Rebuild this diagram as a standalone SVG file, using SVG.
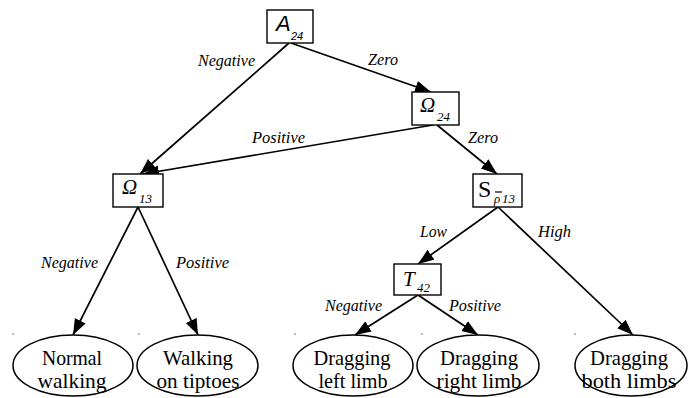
<svg xmlns="http://www.w3.org/2000/svg" width="688" height="398" viewBox="0 0 688 398">
  <style>
    .box { fill: #fff; stroke: #000; stroke-width: 1.4; }
    .leaf { fill: #fff; stroke: #000; stroke-width: 1.5; }
    .edge { fill: none; stroke: #000; stroke-width: 1.7; marker-end: url(#arrow); }
    .lbl { font-family: "Liberation Serif", "Times New Roman", serif; font-style: italic; font-size: 16px; fill: #000; }
    .leaftxt { font-family: "Liberation Serif", "Times New Roman", serif; font-size: 21px; fill: #000; text-anchor: middle; }
    .sym { font-family: "Liberation Serif", "Times New Roman", serif; font-style: italic; fill: #000; }
    .sub { font-family: "Liberation Serif", "Times New Roman", serif; font-style: italic; font-size: 13px; fill: #000; }
    .dot { fill: #666; }
  </style>
  <defs>
    <marker id="arrow" markerUnits="userSpaceOnUse" markerWidth="17" markerHeight="13" refX="16" refY="6" orient="auto">
      <path d="M0,0 L16,6 L0,12 Z" fill="#000"/>
    </marker>
  </defs>

  <!-- connectors -->
  <g id="edges">
    <line class="edge" x1="289" y1="43" x2="140" y2="174"/>
    <line class="edge" x1="291" y1="43" x2="431" y2="92"/>
    <line class="edge" x1="433" y1="125" x2="143" y2="174"/>
    <line class="edge" x1="437" y1="125" x2="497" y2="174"/>
    <line class="edge" x1="138" y1="207" x2="73" y2="335"/>
    <line class="edge" x1="138" y1="207" x2="198" y2="335"/>
    <line class="edge" x1="498" y1="207" x2="418" y2="264"/>
    <line class="edge" x1="498" y1="207" x2="633" y2="335"/>
    <line class="edge" x1="418" y1="295" x2="355" y2="335"/>
    <line class="edge" x1="418" y1="295" x2="478" y2="335"/>
    <!-- branch labels -->
    <text class="lbl" x="198" y="66" textLength="57" lengthAdjust="spacingAndGlyphs">Negative</text>
    <text class="lbl" x="368" y="65" textLength="30" lengthAdjust="spacingAndGlyphs">Zero</text>
    <text class="lbl" x="252" y="143" textLength="53" lengthAdjust="spacingAndGlyphs">Positive</text>
    <text class="lbl" x="468" y="143" textLength="30" lengthAdjust="spacingAndGlyphs">Zero</text>
    <text class="lbl" x="41" y="268" textLength="57" lengthAdjust="spacingAndGlyphs">Negative</text>
    <text class="lbl" x="176" y="268" textLength="53" lengthAdjust="spacingAndGlyphs">Positive</text>
    <text class="lbl" x="420" y="237" textLength="27" lengthAdjust="spacingAndGlyphs">Low</text>
    <text class="lbl" x="538" y="237" textLength="33" lengthAdjust="spacingAndGlyphs">High</text>
    <text class="lbl" x="325" y="311" textLength="57" lengthAdjust="spacingAndGlyphs">Negative</text>
    <text class="lbl" x="449" y="311" textLength="52" lengthAdjust="spacingAndGlyphs">Positive</text>
  </g>

  <!-- decision nodes -->
  <g id="A24">
    <rect class="box" x="267" y="10" width="46" height="33"/>
    <text x="276" y="31" font-family="Liberation Sans, Arial, sans-serif" font-style="italic" font-size="22">A</text>
    <text x="291" y="40" font-family="Liberation Sans, Arial, sans-serif" font-style="italic" font-size="11">24</text>
  </g>
  <g id="Omega24">
    <rect class="box" x="412" y="92" width="47" height="33"/>
    <text class="sym" x="420" y="112" font-size="21">Ω</text>
    <text class="sub" x="437" y="121">24</text>
  </g>
  <g id="Omega13">
    <rect class="box" x="113" y="174" width="50" height="33"/>
    <text class="sym" x="122" y="194" font-size="21">Ω</text>
    <text class="sub" x="139" y="203">13</text>
  </g>
  <g id="S">
    <rect class="box" x="473" y="174" width="49" height="33"/>
    <text x="478" y="197" font-family="Liberation Serif, Times New Roman, serif" font-size="24">S</text>
    <text class="sub" x="494" y="203">ρ</text>
    <line x1="495" y1="192" x2="502" y2="192" stroke="#000" stroke-width="1.2"/>
    <text class="sub" x="502" y="203">13</text>
  </g>
  <g id="T42">
    <rect class="box" x="394" y="264" width="47" height="31"/>
    <text x="403" y="286" font-family="Liberation Serif, Times New Roman, serif" font-style="italic" font-size="21">T</text>
    <text class="sub" x="417" y="292">42</text>
  </g>

  <!-- outcome nodes -->
  <g id="normal-walking">
    <ellipse class="leaf" cx="73" cy="365.5" rx="60" ry="30.5"/>
    <circle class="dot" cx="13" cy="334" r="0.8"/>
    <text class="leaftxt" x="72" y="365" textLength="60" lengthAdjust="spacingAndGlyphs">Normal</text>
    <text class="leaftxt" x="72" y="388" textLength="69" lengthAdjust="spacingAndGlyphs">walking</text>
  </g>
  <g id="walking-tiptoes">
    <ellipse class="leaf" cx="197.5" cy="365.5" rx="60.5" ry="30.5"/>
    <circle class="dot" cx="139" cy="334" r="0.8"/>
    <text class="leaftxt" x="198" y="365" textLength="70" lengthAdjust="spacingAndGlyphs">Walking</text>
    <text class="leaftxt" x="198" y="388" textLength="83" lengthAdjust="spacingAndGlyphs">on tiptoes</text>
  </g>
  <g id="dragging-left">
    <ellipse class="leaf" cx="353" cy="365.5" rx="60" ry="30.5"/>
    <circle class="dot" cx="295" cy="334" r="0.8"/>
    <text class="leaftxt" x="352" y="365" textLength="77" lengthAdjust="spacingAndGlyphs">Dragging</text>
    <text class="leaftxt" x="353" y="388" textLength="69" lengthAdjust="spacingAndGlyphs">left limb</text>
  </g>
  <g id="dragging-right">
    <ellipse class="leaf" cx="478" cy="365.5" rx="61" ry="30.5"/>
    <circle class="dot" cx="422" cy="334" r="0.8"/>
    <text class="leaftxt" x="479" y="365" textLength="78" lengthAdjust="spacingAndGlyphs">Dragging</text>
    <text class="leaftxt" x="479" y="388" textLength="85" lengthAdjust="spacingAndGlyphs">right limb</text>
  </g>
  <g id="dragging-both">
    <ellipse class="leaf" cx="631" cy="365.5" rx="56" ry="30.5"/>
    <circle class="dot" cx="575" cy="334" r="0.8"/>
    <text class="leaftxt" x="629" y="365" textLength="78" lengthAdjust="spacingAndGlyphs">Dragging</text>
    <text class="leaftxt" x="629" y="388" textLength="95" lengthAdjust="spacingAndGlyphs">both limbs</text>
  </g>
</svg>
